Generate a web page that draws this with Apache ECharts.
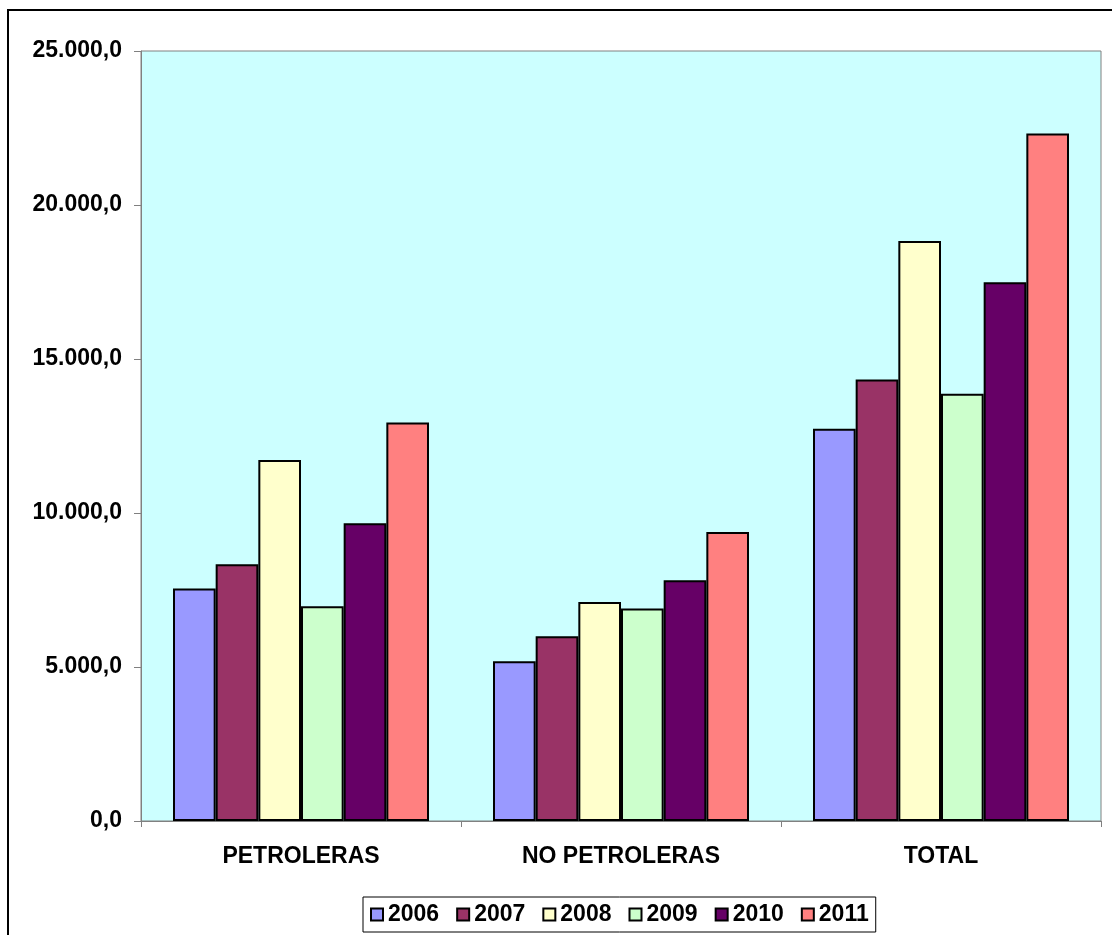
<!DOCTYPE html>
<html>
<head>
<meta charset="utf-8">
<style>
html, body { margin: 0; padding: 0; background: #fff; }
#chart { width: 1112px; height: 935px; }
</style>
<script src="https://cdn.jsdelivr.net/npm/echarts@6/dist/echarts.min.js"></script>
</head>
<body>
<div id="chart"></div>
<script>
var categories = ['PETROLERAS', 'NO PETROLERAS', 'TOTAL'];
var years = ['2006', '2007', '2008', '2009', '2010', '2011'];
var v2006 = [7545, 5190, 12735];
var v2007 = [8335, 6000, 14335];
var v2008 = [11720, 7110, 18830];
var v2009 = [6970, 6900, 13870];
var v2010 = [9670, 7820, 17490];
var v2011 = [12940, 9380, 22320];
var yearValues = [v2006, v2007, v2008, v2009, v2010, v2011];
var yearColors = ['#9999FF', '#993366', '#FFFFCC', '#CCFFCC', '#660066', '#FF8080'];

var myChart = echarts.init(document.getElementById('chart'));
var font = '"Liberation Sans", Arial, sans-serif';

function fmt(v) {
    // 25000 -> 25.000,0
    var s = Math.round(v).toString().replace(/\B(?=(\d{3})+(?!\d))/g, '.');
    return s + ',0';
}

var series = [];
var legendData = [];
for (var i = 0; i < years.length; i++) {
    series.push({
        name: years[i],
        type: 'bar',
        data: yearValues[i],
        barGap: '0%',
        barCategoryGap: '20%',
        itemStyle: {
            color: yearColors[i],
            borderColor: '#000',
            borderWidth: 2
        }
    });
    legendData.push({
        name: years[i],
        icon: 'rect',
        itemStyle: { color: yearColors[i], borderColor: '#000', borderWidth: 2 }
    });
}

var option = {
    animation: false,
    textStyle: { fontFamily: font },
    graphic: [{
        type: 'rect',
        shape: { x: 8, y: 10, width: 1130, height: 960 },
        style: { fill: 'none', stroke: '#000', lineWidth: 2 },
        z: -10
    }],
    grid: {
        left: 141,
        right: 11,
        top: 51,
        bottom: 114,
        show: true,
        backgroundColor: '#CCFFFF',
        borderColor: '#808080',
        borderWidth: 1
    },
    legend: {
        data: legendData,
        left: 363,
        top: 897,
        itemWidth: 12,
        itemHeight: 12,
        itemGap: 17,
        padding: [6, 7],
        borderColor: '#000',
        borderWidth: 1,
        backgroundColor: '#fff',
        textStyle: { fontFamily: font, fontWeight: 'bold', fontSize: 23, color: '#000' }
    },
    xAxis: {
        type: 'category',
        data: categories,
        axisLine: { lineStyle: { color: '#808080', width: 1 } },
        axisTick: { show: true, length: 6, lineStyle: { color: '#808080' } },
        axisLabel: { fontFamily: font, fontWeight: 'bold', fontSize: 23, color: '#000', margin: 24 }
    },
    yAxis: {
        type: 'value',
        min: 0,
        max: 25000,
        interval: 5000,
        splitLine: { show: false },
        axisLine: { show: true, lineStyle: { color: '#808080', width: 1 } },
        axisTick: { show: true, length: 7, lineStyle: { color: '#808080' } },
        axisLabel: {
            fontFamily: font, fontWeight: 'bold', fontSize: 23, color: '#000', margin: 19,
            formatter: function (v) { return fmt(v); }
        }
    },
    series: series
};

myChart.setOption(option);
</script>
</body>
</html>
